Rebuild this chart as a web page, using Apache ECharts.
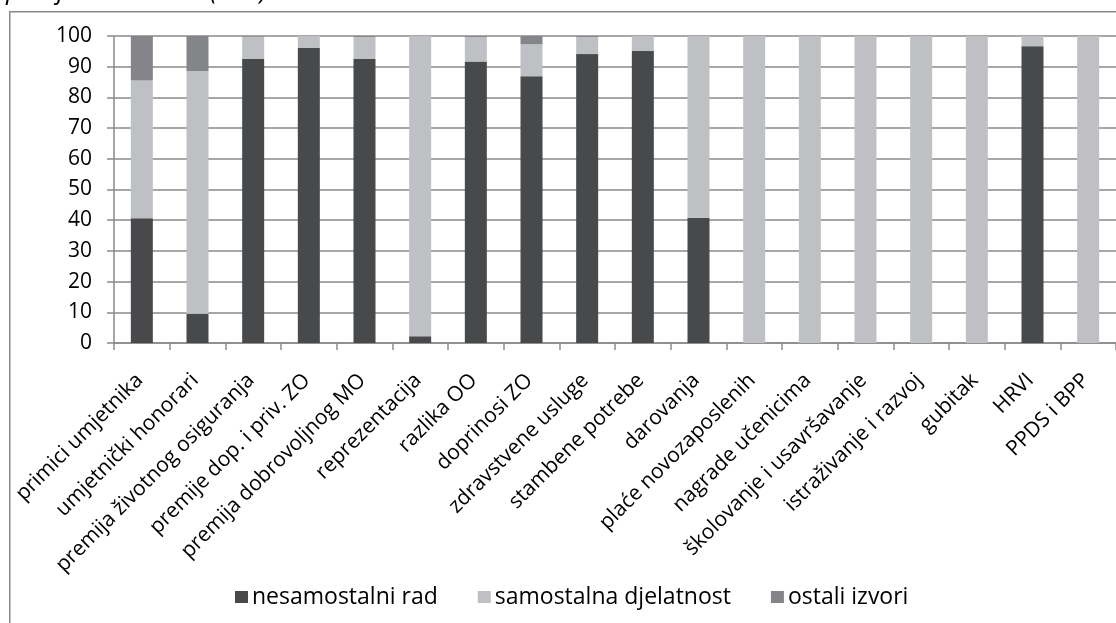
<!DOCTYPE html>
<html>
<head>
<meta charset="utf-8">
<script src="https://cdn.jsdelivr.net/npm/echarts@6/dist/echarts.min.js"></script>
<style>
html,body{margin:0;padding:0;background:#fff;}
#chart{width:1116px;height:623px;}
</style>
</head>
<body>
<div id="chart"></div>
<script>
const categories = ["primici umjetnika","umjetnički honorari","premija životnog osiguranja","premije dop. i priv. ZO","premija dobrovoljnog MO","reprezentacija","razlika OO","doprinosi ZO","zdravstvene usluge","stambene potrebe","darovanja","plaće novozaposlenih","nagrade učenicima","školovanje i usavršavanje","istraživanje i razvoj","gubitak","HRVI","PPDS i BPP"];
const nesamostalniRad = [40.6, 9.5, 92.5, 96.1, 92.5, 2.2, 91.7, 86.9, 94.1, 95.1, 40.8, 0, 0, 0, 0, 0, 96.7, 0];
const samostalnaDjelatnost = [44.9, 79.1, 7.3, 3.9, 7.2, 97.8, 8.0, 10.4, 5.6, 4.9, 59.2, 100, 100, 100, 100, 100, 3.3, 100];
const ostaliIzvori = [14.5, 11.4, 0.2, 0, 0.3, 0, 0.3, 2.7, 0.3, 0, 0, 0, 0, 0, 0, 0, 0, 0];
const seriesNames = ["nesamostalni rad", "samostalna djelatnost", "ostali izvori"];
const titleText = "prosjek 2008.-05. (u %)";

const FONT = "'Open Sans', sans-serif";
const chart = echarts.init(document.getElementById('chart'), null, {renderer: 'canvas'});
const barStyle = (name, data, color) => ({
  name: name, type: 'bar', stack: 'total', data: data, barWidth: 22,
  itemStyle: {color: color}, emphasis: {disabled: true}
});
chart.setOption({
  animation: false,
  backgroundColor: '#fff',
  graphic: [
    {type: 'rect', left: 9, top: 11, z: -1, silent: true,
      shape: {x: 0, y: 0, width: 1200, height: 700},
      style: {fill: '#fff', stroke: '#8a8a8a', lineWidth: 1.5}},
    {type: 'text', x: 6, y: 5, silent: true,
      style: {text: titleText, font: "italic 26px 'Open Sans', sans-serif", fill: '#000', verticalAlign: 'bottom', align: 'left'}}
  ],
  legend: {
    data: seriesNames, left: 230, top: 579, itemWidth: 13, itemHeight: 12, itemGap: 40,
    icon: 'rect',
    textStyle: {fontFamily: FONT, fontSize: 23, color: '#000', lineHeight: 26, padding: [0,0,0,-1]}
  },
  grid: {left: 114, top: 36, bottom: 280, width: 1012, containLabel: false},
  xAxis: {
    type: 'category', data: categories,
    axisLine: {lineStyle: {color: '#8a8a8a', width: 1.5}},
    axisTick: {show: true, length: 7, lineStyle: {color: '#8a8a8a', width: 1.5}},
    axisLabel: {rotate: 45, interval: 0, margin: 32, padding: [0, 3, 0, 0], fontFamily: FONT, fontSize: 21, color: '#000'}
  },
  yAxis: {
    type: 'value', min: 0, max: 100, interval: 10,
    axisLine: {show: true, lineStyle: {color: '#8a8a8a', width: 1.5}},
    axisTick: {show: true, inside: false, length: 7, lineStyle: {color: '#8a8a8a', width: 1.5}},
    splitLine: {lineStyle: {color: '#8a8a8a', width: 1.5}},
    axisLabel: {margin: 22, fontFamily: FONT, fontSize: 21, color: '#000'}
  },
  series: [
    barStyle(seriesNames[0], nesamostalniRad, '#48494b'),
    barStyle(seriesNames[1], samostalnaDjelatnost, '#bfc0c4'),
    barStyle(seriesNames[2], ostaliIzvori, '#848588')
  ]
});
</script>
</body>
</html>
